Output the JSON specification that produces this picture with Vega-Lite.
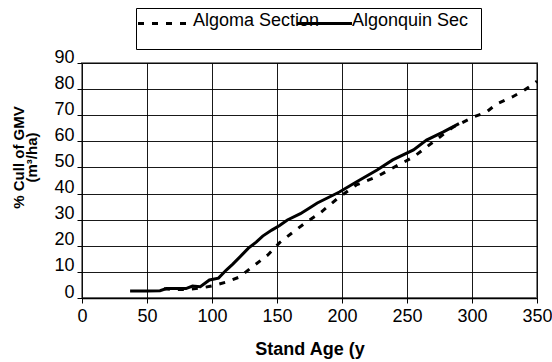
{
  "$schema": "https://vega.github.io/schema/vega-lite/v6.json",
  "width": 455,
  "height": 235,
  "autosize": {"type": "none"},
  "padding": {"left": 82, "top": 63, "right": 15, "bottom": 64},
  "background": "white",
  "config": {
    "font": "Liberation Sans",
    "view": {"stroke": "#808080", "strokeWidth": 2}
  },
  "data": {
    "values": [
      {"series": "Algoma Section", "age": 63, "cull": 3.5},
      {"series": "Algoma Section", "age": 72, "cull": 3.3},
      {"series": "Algoma Section", "age": 81, "cull": 3.2},
      {"series": "Algoma Section", "age": 91, "cull": 3.8},
      {"series": "Algoma Section", "age": 100, "cull": 4.6},
      {"series": "Algoma Section", "age": 111, "cull": 6.1},
      {"series": "Algoma Section", "age": 121, "cull": 8.0},
      {"series": "Algoma Section", "age": 131, "cull": 11.9},
      {"series": "Algoma Section", "age": 143, "cull": 16.5},
      {"series": "Algoma Section", "age": 152, "cull": 21.2},
      {"series": "Algoma Section", "age": 162, "cull": 25.1},
      {"series": "Algoma Section", "age": 173, "cull": 29.2},
      {"series": "Algoma Section", "age": 183, "cull": 32.5},
      {"series": "Algoma Section", "age": 198, "cull": 38.7},
      {"series": "Algoma Section", "age": 211, "cull": 43.3},
      {"series": "Algoma Section", "age": 227, "cull": 46.5},
      {"series": "Algoma Section", "age": 239, "cull": 49.8},
      {"series": "Algoma Section", "age": 255, "cull": 54.0},
      {"series": "Algoma Section", "age": 270, "cull": 59.7},
      {"series": "Algoma Section", "age": 285, "cull": 65.3},
      {"series": "Algoma Section", "age": 301, "cull": 69.3},
      {"series": "Algoma Section", "age": 311, "cull": 71.2},
      {"series": "Algoma Section", "age": 319, "cull": 74.3},
      {"series": "Algoma Section", "age": 331, "cull": 77.0},
      {"series": "Algoma Section", "age": 340, "cull": 79.5},
      {"series": "Algoma Section", "age": 350, "cull": 83.0},
      {"series": "Algonquin Sec", "age": 37, "cull": 2.7},
      {"series": "Algonquin Sec", "age": 50, "cull": 2.7},
      {"series": "Algonquin Sec", "age": 60, "cull": 2.8},
      {"series": "Algonquin Sec", "age": 65, "cull": 3.6},
      {"series": "Algonquin Sec", "age": 80, "cull": 3.6},
      {"series": "Algonquin Sec", "age": 85, "cull": 4.6},
      {"series": "Algonquin Sec", "age": 91, "cull": 4.3},
      {"series": "Algonquin Sec", "age": 98, "cull": 6.9},
      {"series": "Algonquin Sec", "age": 105, "cull": 7.6},
      {"series": "Algonquin Sec", "age": 111, "cull": 10.7},
      {"series": "Algonquin Sec", "age": 116, "cull": 13.0},
      {"series": "Algonquin Sec", "age": 123, "cull": 16.5},
      {"series": "Algonquin Sec", "age": 128, "cull": 19.1},
      {"series": "Algonquin Sec", "age": 134, "cull": 21.4},
      {"series": "Algonquin Sec", "age": 139, "cull": 23.7},
      {"series": "Algonquin Sec", "age": 146, "cull": 26.0},
      {"series": "Algonquin Sec", "age": 152, "cull": 27.8},
      {"series": "Algonquin Sec", "age": 158, "cull": 29.9},
      {"series": "Algonquin Sec", "age": 168, "cull": 32.3},
      {"series": "Algonquin Sec", "age": 175, "cull": 34.5},
      {"series": "Algonquin Sec", "age": 181, "cull": 36.4},
      {"series": "Algonquin Sec", "age": 198, "cull": 40.6},
      {"series": "Algonquin Sec", "age": 211, "cull": 44.4},
      {"series": "Algonquin Sec", "age": 227, "cull": 49.0},
      {"series": "Algonquin Sec", "age": 239, "cull": 52.9},
      {"series": "Algonquin Sec", "age": 255, "cull": 56.7},
      {"series": "Algonquin Sec", "age": 265, "cull": 60.5},
      {"series": "Algonquin Sec", "age": 278, "cull": 63.6},
      {"series": "Algonquin Sec", "age": 290, "cull": 66.8}
    ]
  },
  "encoding": {
    "x": {
      "field": "age",
      "type": "quantitative",
      "scale": {"domain": [0, 350], "nice": false, "zero": false},
      "axis": {
        "title": "Stand Age (y",
        "values": [0, 50, 100, 150, 200, 250, 300, 350],
        "grid": true,
        "gridColor": "black",
        "gridWidth": 1,
        "gridOpacity": 0.9,
        "domainColor": "black",
        "domainWidth": 1.5,
        "tickColor": "black",
        "tickSize": 5,
        "labelFontSize": 18,
        "labelColor": "black",
        "labelPadding": 4,
        "labelFlush": false,
        "labelOverlap": false,
        "titleFontSize": 18,
        "titleFontWeight": "bold",
        "titleColor": "black",
        "titleBaseline": "alphabetic",
        "titleY": 56
      }
    },
    "y": {
      "field": "cull",
      "type": "quantitative",
      "scale": {"domain": [0, 90], "nice": false},
      "axis": {
        "title": ["% Cull of GMV", "(m³/ha)"],
        "values": [0, 10, 20, 30, 40, 50, 60, 70, 80, 90],
        "grid": true,
        "gridColor": "black",
        "gridWidth": 1,
        "gridOpacity": 0.9,
        "domain": false,
        "tickColor": "black",
        "tickSize": 5,
        "labelFontSize": 18,
        "labelColor": "black",
        "labelPadding": 3,
        "labelBaseline": "alphabetic",
        "labelOffset": -1,
        "labelFlush": false,
        "labelOverlap": false,
        "titleFontSize": 15,
        "titleFontWeight": "bold",
        "titleColor": "black",
        "titleLineHeight": 13,
        "titleAngle": -90,
        "titleAlign": "center",
        "titleBaseline": "alphabetic",
        "titleX": -59,
        "titleY": 94
      }
    }
  },
  "layer": [
    {
      "transform": [{"filter": "datum.series === 'Algoma Section'"}],
      "mark": {"type": "line", "strokeWidth": 3, "color": "black"},
      "encoding": {
        "strokeDash": {
          "field": "series",
          "type": "nominal",
          "scale": {"domain": ["Algoma Section"], "range": [[6, 8]]},
          "legend": {
            "title": null,
            "orient": "none",
            "legendX": 54,
            "legendY": -55,
            "strokeColor": "black",
            "padding": 2,
            "symbolType": "M-1.107,-0.143H2.75M22.82,1.107M-1.107,-1.107",
            "symbolSize": 784,
            "symbolStrokeWidth": 3,
            "symbolStrokeColor": "black",
            "symbolFillColor": "transparent",
            "symbolOffset": 0,
            "labelFontSize": 18,
            "labelColor": "black",
            "labelBaseline": "alphabetic",
            "labelOffset": 24,
            "labelLimit": 400
          }
        }
      }
    },
    {
      "transform": [{"filter": "datum.series === 'Algonquin Sec'"}],
      "mark": {"type": "line", "strokeWidth": 3, "color": "black"},
      "encoding": {
        "opacity": {
          "field": "series",
          "type": "ordinal",
          "scale": {"domain": ["Algonquin Sec"], "range": [1, 1]},
          "legend": {
            "title": null,
            "orient": "none",
            "legendX": 215,
            "legendY": -53,
            "padding": 0,
            "symbolType": "M-1.107,-0.143H2.82",
            "symbolSize": 784,
            "symbolStrokeWidth": 3,
            "symbolStrokeColor": "black",
            "symbolFillColor": "transparent",
            "symbolOpacity": 1,
            "symbolOffset": 0,
            "labelFontSize": 18,
            "labelColor": "black",
            "labelBaseline": "alphabetic",
            "labelOffset": 24,
            "labelLimit": 400
          }
        }
      }
    }
  ]
}
